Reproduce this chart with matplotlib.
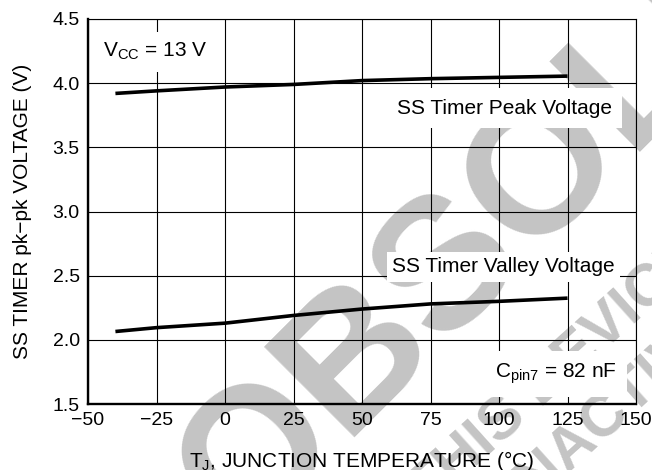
import matplotlib

matplotlib.use("Agg")
import matplotlib.pyplot as plt


# Temperatura spoja i izmereni naponi SS tajmera.
TEMPERATURE = [-40, -25, 0, 25, 50, 75, 100, 125]
PEAK_VOLTAGE = [3.92, 3.94, 3.97, 3.99, 4.02, 4.035, 4.045, 4.055]
VALLEY_VOLTAGE = [2.065, 2.095, 2.13, 2.19, 2.24, 2.28, 2.30, 2.325]

X_TICKS = [-50, -25, 0, 25, 50, 75, 100, 125, 150]
Y_TICKS = [1.5, 2.0, 2.5, 3.0, 3.5, 4.0, 4.5]

FONT = ["Liberation Sans", "DejaVu Sans"]
WATERMARK_COLOR = "#c4c4c4"

plt.rcParams["font.family"] = FONT
plt.rcParams["mathtext.fontset"] = "custom"
plt.rcParams["mathtext.rm"] = "Liberation Sans"
plt.rcParams["mathtext.it"] = "Liberation Sans:italic"
plt.rcParams["mathtext.bf"] = "Liberation Sans:bold"


def draw_watermark(fig):
    """Sivi dijagonalni natpis iza grafika."""
    fig.text(0.371, -0.155, "OBSOLETE", fontsize=134, fontweight="bold",
             color=WATERMARK_COLOR, rotation=45, rotation_mode="anchor",
             ha="left", va="baseline", zorder=-1)
    fig.text(0.656, -0.087, "THIS DEVICE IS", fontsize=43, fontweight="bold",
             color=WATERMARK_COLOR, rotation=42, rotation_mode="anchor",
             ha="left", va="baseline", zorder=-1)
    fig.text(0.801, -0.089, "INACTIVE", fontsize=43, fontweight="bold",
             color=WATERMARK_COLOR, rotation=42, rotation_mode="anchor",
             ha="left", va="baseline", zorder=-1)


def label(ax, x, y, text, ha, pad):
    """Natpis sa belom pozadinom preko mreze."""
    ax.text(x, y, text, fontsize=15, ha=ha, va="baseline", zorder=5,
            bbox=dict(boxstyle=f"square,pad={pad}", facecolor="white",
                      edgecolor="none"))


def main():
    fig = plt.figure(figsize=(6.52, 4.70), dpi=100)
    ax = fig.add_axes([0.135, 0.1404, 0.8405, 0.8192])
    ax.patch.set_alpha(0)

    draw_watermark(fig)

    ax.plot(TEMPERATURE, PEAK_VOLTAGE, color="black", linewidth=2.6,
            solid_capstyle="butt", zorder=4)
    ax.plot(TEMPERATURE, VALLEY_VOLTAGE, color="black", linewidth=2.6,
            solid_capstyle="butt", zorder=4)

    ax.set_xlim(-50, 150)
    ax.set_ylim(1.5, 4.5)
    ax.set_xticks(X_TICKS)
    ax.set_yticks(Y_TICKS)
    ax.set_yticklabels([f"{v:.1f}" for v in Y_TICKS])
    ax.tick_params(length=0, labelsize=14, pad=6)
    ax.grid(True, color="black", linewidth=0.8)
    ax.set_axisbelow(True)

    for side in ["left", "bottom"]:
        ax.spines[side].set_linewidth(1.7)
    for side in ["top", "right"]:
        ax.spines[side].set_linewidth(0.8)

    ax.set_xlabel(r"T$_{\rm J}$, JUNCTION TEMPERATURE (°C)", fontsize=15,
                  labelpad=14)
    ax.set_ylabel("SS TIMER pk\u2212pk VOLTAGE (V)", fontsize=15, labelpad=15)

    label(ax, -44.5, 4.204, r"V$_{\rm CC}$ = 13 V", "left", 0.45)
    label(ax, 141.2, 3.761, "SS Timer Peak Voltage", "right", 0.5)
    label(ax, 142.3, 2.526, "SS Timer Valley Voltage", "right", 0.25)
    label(ax, 143.0, 1.702, r"C$_{\rm pin7}$ = 82 nF", "right", 0.5)

    fig.savefig("out.png", dpi=100)
    plt.close(fig)


if __name__ == "__main__":
    main()
